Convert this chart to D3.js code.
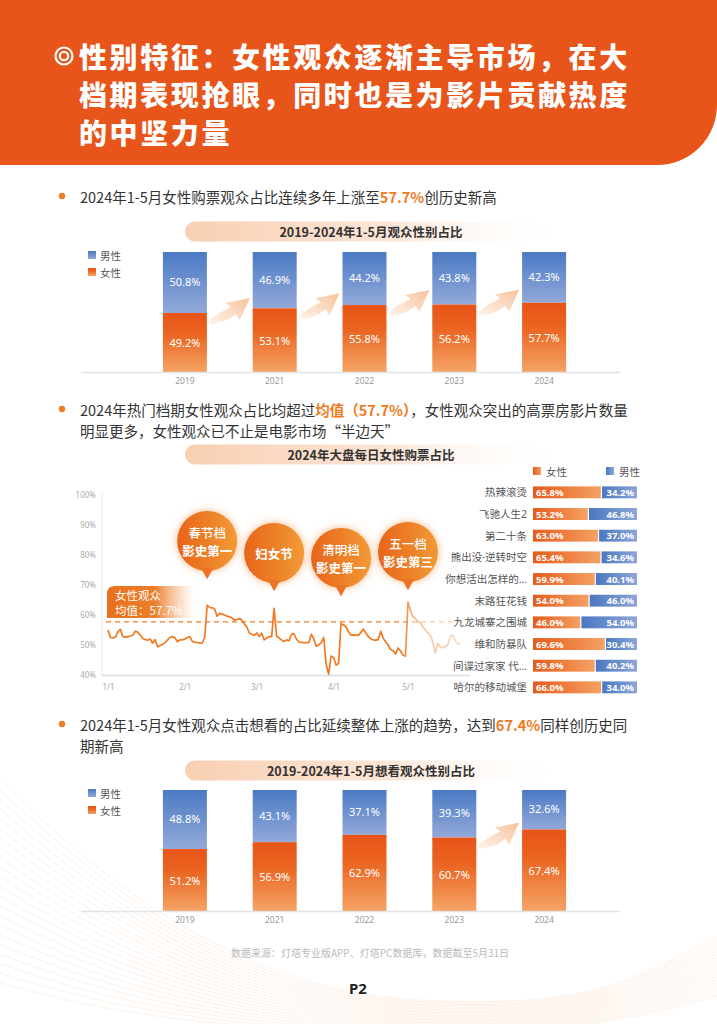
<!DOCTYPE html>
<html>
<head>
<meta charset="utf-8">
<script src="https://cdn.jsdelivr.net/npm/d3@7"></script>
<style>
body { margin: 0; background: #fff; }
svg { display: block; font-family: "Noto Sans CJK SC", "Noto Sans", sans-serif; }
</style>
</head>
<body>
<svg width="717" height="1024"></svg>
<script>
// ---- data ----
const titleLines = ["性别特征：女性观众逐渐主导市场，在大", "档期表现抢眼，同时也是为影片贡献热度", "的中坚力量"];

const years = ["2019", "2021", "2022", "2023", "2024"];
const buyFemale = [49.2, 53.1, 55.8, 56.2, 57.7];
const buyMale = [50.8, 46.9, 44.2, 43.8, 42.3];
const wantFemale = [51.2, 56.9, 62.9, 60.7, 67.4];
const wantMale = [48.8, 43.1, 37.1, 39.3, 32.6];

const movies = ["热辣滚烫", "飞驰人生2", "第二十条", "熊出没·逆转时空", "你想活出怎样的…", "末路狂花钱", "九龙城寨之围城", "维和防暴队", "间谍过家家 代…", "哈尔的移动城堡"];
const movieFemale = [65.8, 53.2, 63.0, 65.4, 59.9, 54.0, 46.0, 69.6, 59.8, 66.0];
const movieMale = [34.2, 46.8, 37.0, 34.6, 40.1, 46.0, 54.0, 30.4, 40.2, 34.0];

// daily female share from 1/1/2024 (index = day of year)
const dailyFemale = [
  55.0, 52.5, 52.4, 52.6, 54.4, 55.2, 52.8, 52.6, 52.8, 53.0,
  53.3, 54.6, 54.3, 53.3, 52.2, 51.8, 51.6, 52.0, 50.6, 51.8,
  49.4, 49.8, 50.2, 50.8, 51.7, 52.5, 52.8, 52.4, 51.1, 51.7,
  51.7, 52.0, 52.5, 52.8, 51.2, 50.9, 50.9, 50.6, 50.7, 52.5,
  63.3, 62.5, 62.4, 62.0, 59.6, 60.6, 60.3, 60.0, 59.6, 59.4,
  59.0, 58.3, 58.5, 58.8, 58.3, 57.0, 56.0, 54.0, 53.6, 53.2,
  54.0, 52.8, 53.9, 51.7, 52.3, 52.8, 52.8, 62.2, 53.0, 52.3,
  51.7, 51.2, 51.7, 51.4, 53.6, 53.7, 52.0, 51.0, 50.9, 50.8,
  50.8, 50.8, 53.6, 52.0, 49.6, 50.0, 50.8, 52.5, 43.5, 40.3,
  46.3, 45.8, 43.3, 43.8, 57.2, 56.7, 56.0, 54.4, 53.3, 53.4,
  53.3, 53.2, 54.2, 55.3, 54.0, 52.8, 52.1, 51.7, 51.6, 51.8,
  54.6, 52.3, 51.0, 50.0, 48.5, 48.1, 47.0, 49.0, 48.0, 46.6,
  46.3, 64.3, 61.5, 59.5, 58.8, 57.8, 57.5, 56.0, 55.0, 54.0,
  53.3, 51.0, 47.3, 50.5, 49.5, 49.0, 49.5, 50.0, 52.8, 53.3,
  51.5, 50.5, 50.3
];
const femaleMean = 57.7;
const yTicks = [40, 50, 60, 70, 80, 90, 100];
const monthDays = [0, 31, 60, 91, 121];
const monthLabels = ["1/1", "2/1", "3/1", "4/1", "5/1"];

const eventDays = [40, 67, 94, 121];
const eventLabels = [["春节档", "影史第一"], ["妇女节"], ["清明档", "影史第一"], ["五一档", "影史第三"]];

const ORANGE = "#F07A22";

const svg = d3.select("svg");
const defs = svg.append("defs");

const linGrad = (id, stops, a) => {
    const g = defs.append("linearGradient").attr("id", id)
        .attr("x1", a[0]).attr("y1", a[1]).attr("x2", a[2]).attr("y2", a[3]);
    if (a[4]) g.attr("gradientUnits", a[4]);
    stops.forEach(s => g.append("stop").attr("offset", s[0]).attr("stop-color", s[1]).attr("stop-opacity", s[2] ?? 1));
};
linGrad("gBlueV", [[0, "#4A7AC3"], [1, "#93A9D9"]], [0, 0, 0, 1]);
linGrad("gOrangeV", [[0, "#E85418"], [0.35, "#EA6420"], [1, "#F4A466"]], [0, 0, 0, 1]);
linGrad("gBlueH", [[0, "#4A78C2"], [1, "#8DA5D6"]], [0, 0, 1, 0]);
linGrad("gOrangeH", [[0, "#E85A1A"], [1, "#F3A264"]], [0, 0, 1, 0]);
linGrad("gBand", [[0, "#F9CFB2"], [0.55, "#FCE6D7"], [1, "#FFFFFF", 0]], [0, 0, 1, 0]);
linGrad("gArrow", [[0, "#FEF4EC"], [1, "#F8C29C"]], [0, 1, 1, 0]);
linGrad("gBubble", [[0, "#E8641A"], [1, "#F19A35"]], [0, 0, 1, 0]);
linGrad("gMeanBox", [[0, "#E8701C"], [0.55, "#EC7E2A"], [1, "#F6B27E", 0]], [0, 0, 1, 0]);
linGrad("gLine", [[0, ORANGE], [0.83, ORANGE], [0.88, ORANGE, 0.45], [1, ORANGE, 0.3]], [108, 0, 460, 0, "userSpaceOnUse"]);

const glow = defs.append("filter").attr("id", "glow").attr("x", "-50%").attr("y", "-50%").attr("width", "200%").attr("height", "200%");
glow.append("feDropShadow").attr("dx", 0).attr("dy", 0).attr("stdDeviation", 4.5)
    .attr("flood-color", "#F4A060").attr("flood-opacity", 0.75);

// ---- background waves ----
const waves = svg.append("g").attr("fill", "none").attr("stroke", "#F7CBAA").attr("stroke-width", 0.6).attr("opacity", 0.45);
d3.range(22).forEach(i => {
    waves.append("path").attr("d",
        `M-10,${770 + i * 10} C110,${890 + i * 6} 240,${990 + i * 2} 420,${1000 + i * 1.5} S640,${975 + i * 2} 730,${930 + i * 3}`);
});

// ---- header ----
svg.append("path").attr("d", "M0,0 H717 V105 A60,60 0 0 1 657,165 H0 Z").attr("fill", "#E8551A");
const ring = svg.append("g").attr("transform", "translate(64,56)").attr("fill", "none").attr("stroke", "#fff").attr("stroke-width", 2.2);
ring.append("circle").attr("r", 8.5);
ring.append("circle").attr("r", 4.2);
svg.append("g").selectAll("text").data(titleLines).join("text")
    .attr("x", 79).attr("y", (d, i) => 56 + i * 38)
    .attr("dominant-baseline", "central")
    .attr("fill", "#fff").attr("font-size", 28).attr("font-weight", 900).attr("letter-spacing", 2.6)
    .text(d => d);

// ---- bullet paragraphs ----
const rich = (y, lines) => {
    svg.append("circle").attr("cx", 62).attr("cy", y).attr("r", 3.2).attr("fill", ORANGE);
    lines.forEach((segs, li) => {
        const t = svg.append("text").attr("x", 80).attr("y", y + li * 21).attr("dominant-baseline", "central")
            .attr("font-size", 14.5).attr("fill", "#333");
        segs.forEach(s => {
            const ts = t.append("tspan").text(s[0]);
            if (s[1]) ts.attr("fill", ORANGE).attr("font-weight", 700);
        });
    });
};
rich(196, [[["2024年1-5月女性购票观众占比连续多年上涨至"], ["57.7%", true], ["创历史新高"]]]);
rich(409, [[["2024年热门档期女性观众占比均超过"], ["均值（57.7%）", true], ["，女性观众突出的高票房影片数量"]],
           [["明显更多，女性观众已不止是电影市场“半边天”"]]]);
rich(724, [[["2024年1-5月女性观众点击想看的占比延续整体上涨的趋势，达到"], ["67.4%", true], ["同样创历史同"]],
           [["期新高"]]]);

// ---- section title bands ----
const band = (y, label) => {
    svg.append("rect").attr("x", 185).attr("y", y - 9.5).attr("width", 375).attr("height", 20).attr("rx", 10)
        .attr("fill", "url(#gBand)");
    svg.append("text").attr("x", 371).attr("y", y + 0.5).attr("text-anchor", "middle").attr("dominant-baseline", "central")
        .attr("font-size", 12.5).attr("font-weight", 700).attr("fill", "#333").text(label);
};
band(231, "2019-2024年1-5月观众性别占比");
band(454, "2024年大盘每日女性购票占比");
band(770, "2019-2024年1-5月想看观众性别占比");

// ---- stacked year charts ----
const arrowPath = (x0, y0, x1, y1) => {
    const w = x1 - x0, h = y0 - y1;
    const P = (fx, fy) => `${x0 + fx * w},${y0 - fy * h}`;
    return `M${x0},${y0 + 2} Q${P(0.39, -0.08)} ${P(0.66, 0.33)} L${P(0.76, 0.08)} L${P(1, 1)} L${P(0.41, 0.79)} L${P(0.54, 0.625)} Q${P(0.27, 0.42)} ${x0},${y0 - 2} Z`;
};

const legend = (y) => {
    const lg = svg.append("g").attr("font-size", 10.5).attr("fill", "#555");
    [["男性", "url(#gBlueV)", 0], ["女性", "url(#gOrangeV)", 17]].forEach(([t, f, dy]) => {
        lg.append("rect").attr("x", 88).attr("y", y + dy - 4).attr("width", 8).attr("height", 8).attr("fill", f);
        lg.append("text").attr("x", 100).attr("y", y + dy).attr("dominant-baseline", "central").text(t);
    });
};

const drawStack = (top, bottom, female, male, arrowPairs) => {
    const x = d3.scaleBand().domain(years).range([140, 589]).paddingInner(0.51).paddingOuter(0.255);
    const y = d3.scaleLinear().domain([0, 100]).range([bottom, top]);
    const g = svg.append("g");
    const rows = years.map((yr, i) => ({ yr, f: female[i], m: male[i] }));

    // arrows behind bars
    arrowPairs.forEach(i => {
        const x0 = x(years[i]) + x.bandwidth() + 2, x1 = x(years[i + 1]) - 3;
        const yb = y(female[i]);
        g.append("path").attr("d", arrowPath(x0, yb + 9, x1, yb - 15)).attr("fill", "url(#gArrow)");
    });

    g.selectAll(".m").data(rows).join("rect").attr("class", "m")
        .attr("x", d => x(d.yr)).attr("width", x.bandwidth())
        .attr("y", y(100)).attr("height", d => y(d.f) - y(100)).attr("fill", "url(#gBlueV)");
    g.selectAll(".f").data(rows).join("rect").attr("class", "f")
        .attr("x", d => x(d.yr)).attr("width", x.bandwidth())
        .attr("y", d => y(d.f)).attr("height", d => y(0) - y(d.f)).attr("fill", "url(#gOrangeV)");

    const lab = g.append("g").attr("fill", "#fff").attr("font-size", 11).attr("font-family", "Noto Sans, sans-serif")
        .attr("text-anchor", "middle").attr("dominant-baseline", "central");
    lab.selectAll(".ml").data(rows).join("text").attr("class", "ml")
        .attr("x", d => x(d.yr) + x.bandwidth() / 2).attr("y", d => (y(100) + y(d.f)) / 2 - 1)
        .text(d => d.m.toFixed(1) + "%");
    lab.selectAll(".fl").data(rows).join("text").attr("class", "fl")
        .attr("x", d => x(d.yr) + x.bandwidth() / 2).attr("y", d => (y(0) + y(d.f)) / 2)
        .text(d => d.f.toFixed(1) + "%");

    g.append("line").attr("x1", 81).attr("x2", 620).attr("y1", bottom + 0.5).attr("y2", bottom + 0.5)
        .attr("stroke", "#e3e3e3").attr("stroke-width", 1.5);
    const ax = g.append("g").attr("transform", `translate(0,${bottom})`)
        .call(d3.axisBottom(x).tickSize(0).tickPadding(6));
    ax.select(".domain").remove();
    ax.selectAll("text").attr("fill", "#999").attr("font-size", 8.5).attr("font-family", "Noto Sans, sans-serif");
};

legend(255);
drawStack(252, 372, buyFemale, buyMale, [0, 1, 2, 3]);
legend(793);
drawStack(790, 911, wantFemale, wantMale, [3]);

// ---- daily line chart ----
const xL = d3.scaleLinear().domain([0, 121]).range([108, 408]);
const yL = d3.scaleLinear().domain([40, 100]).range([675, 495]);
const lc = svg.append("g");

lc.append("line").attr("x1", 102).attr("x2", 102).attr("y1", 493).attr("y2", 675).attr("stroke", "#e6e6e6");
lc.append("line").attr("x1", 102).attr("x2", 470).attr("y1", 675.5).attr("y2", 675.5).attr("stroke", "#dedede").attr("stroke-width", 1.3);

const ya = lc.append("g").attr("transform", "translate(102,0)")
    .call(d3.axisLeft(yL).tickValues(yTicks).tickFormat(d => d + "%").tickSize(0).tickPadding(6));
ya.select(".domain").remove();
ya.selectAll("text").attr("fill", "#aaa").attr("font-size", 8).attr("font-family", "Noto Sans, sans-serif");

const xa = lc.append("g").attr("transform", "translate(0,675)")
    .call(d3.axisBottom(xL).tickValues(monthDays).tickFormat((d, i) => monthLabels[i]).tickSize(0).tickPadding(9));
xa.select(".domain").remove();
xa.selectAll("text").attr("fill", "#aaa").attr("font-size", 8).attr("font-family", "Noto Sans, sans-serif");

lc.append("line").attr("x1", 106).attr("x2", 462).attr("y1", yL(femaleMean)).attr("y2", yL(femaleMean))
    .attr("stroke", "url(#gLine)").attr("stroke-width", 1.4).attr("stroke-dasharray", "5,4");

lc.append("path").datum(dailyFemale)
    .attr("d", d3.line().x((d, i) => xL(i)).y(d => yL(d)))
    .attr("fill", "none").attr("stroke", "url(#gLine)").attr("stroke-width", 1.7).attr("stroke-linejoin", "round");

// mean label box
lc.append("path").attr("d", "M107,594 Q107,586 115,586 H194 V618 H107 Z").attr("fill", "url(#gMeanBox)");
lc.append("text").attr("x", 115).attr("y", 595).attr("dominant-baseline", "central")
    .attr("fill", "#fff").attr("font-size", 11.5).text("女性观众");
lc.append("text").attr("x", 115).attr("y", 610).attr("dominant-baseline", "central")
    .attr("fill", "#fff").attr("font-size", 11.5).text("均值：" + femaleMean + "%");

// event bubbles
const bubbleCy = [541, 553, 558, 552];
eventDays.forEach((day, i) => {
    const cx = xL(day), cy = bubbleCy[i], r = 30;
    const b = lc.append("g");
    const tail = `M${cx - 6},${cy + r - 3} L${cx},${cy + r + 8} L${cx + 6},${cy + r - 3} Z`;
    b.append("path").attr("d", tail).attr("fill", "#EB7424");
    b.append("circle").attr("cx", cx).attr("cy", cy).attr("r", r).attr("fill", "url(#gBubble)").attr("filter", "url(#glow)");
    b.append("path").attr("d", tail).attr("fill", "#EB7424");
    const lines = eventLabels[i];
    lines.forEach((t, j) => {
        b.append("text").attr("x", cx).attr("y", cy + (lines.length === 1 ? 0 : (j === 0 ? -9 : 9)))
            .attr("text-anchor", "middle").attr("dominant-baseline", "central")
            .attr("fill", "#fff").attr("font-size", 12.5).attr("font-weight", j === 0 && lines.length > 1 ? 500 : 700)
            .text(t);
    });
});

// ---- movie bars ----
const xM = d3.scaleLinear().domain([0, 100]).range([533, 637]);
const yM = d3.scaleBand().domain(movies).range([481.5, 698.2]).paddingInner(0.45).paddingOuter(0.225);
const mg = svg.append("g");

const mrows = movies.map((m, i) => ({ m, f: movieFemale[i], v: movieMale[i] }));
mg.selectAll(".fb").data(mrows).join("rect").attr("class", "fb")
    .attr("x", xM(0)).attr("y", d => yM(d.m)).attr("height", yM.bandwidth())
    .attr("width", d => xM(d.f) - xM(0) - 0.6).attr("fill", "url(#gOrangeH)");
mg.selectAll(".mb").data(mrows).join("rect").attr("class", "mb")
    .attr("x", d => xM(d.f) + 0.6).attr("y", d => yM(d.m)).attr("height", yM.bandwidth())
    .attr("width", d => xM(100) - xM(d.f) - 0.6).attr("fill", "url(#gBlueH)");

const ml = mg.append("g").attr("font-size", 9.5).attr("font-weight", 700).attr("fill", "#fff")
    .attr("font-family", "Noto Sans, sans-serif").attr("dominant-baseline", "central");
ml.selectAll(".fv").data(mrows).join("text").attr("class", "fv")
    .attr("x", xM(0) + 3).attr("y", d => yM(d.m) + yM.bandwidth() / 2).text(d => d.f.toFixed(1) + "%");
ml.selectAll(".mv").data(mrows).join("text").attr("class", "mv").attr("text-anchor", "end")
    .attr("x", xM(100) - 3).attr("y", d => yM(d.m) + yM.bandwidth() / 2).text(d => d.v.toFixed(1) + "%");

mg.selectAll(".nm").data(mrows).join("text").attr("class", "nm")
    .attr("x", 527).attr("y", d => yM(d.m) + yM.bandwidth() / 2).attr("text-anchor", "end").attr("dominant-baseline", "central")
    .attr("font-family", "'Noto Sans', 'Noto Sans CJK SC', sans-serif")
    .attr("font-size", 10.5).attr("fill", "#555").text(d => d.m);

[["女性", "url(#gOrangeH)", 533], ["男性", "url(#gBlueH)", 606]].forEach(([t, f, x]) => {
    mg.append("rect").attr("x", x).attr("y", 467).attr("width", 8).attr("height", 8).attr("fill", f);
    mg.append("text").attr("x", x + 13).attr("y", 471).attr("dominant-baseline", "central")
        .attr("font-size", 10.5).attr("fill", "#555").text(t);
});

// ---- footer ----
svg.append("text").attr("x", 370).attr("y", 952).attr("text-anchor", "middle").attr("dominant-baseline", "central")
    .attr("font-size", 10).attr("fill", "#bbb").text("数据来源：灯塔专业版APP、灯塔PC数据库，数据截至5月31日");
svg.append("text").attr("x", 358).attr("y", 988).attr("text-anchor", "middle").attr("dominant-baseline", "central")
    .attr("font-size", 15).attr("font-weight", 700).attr("fill", "#222").attr("font-family", "Noto Sans, sans-serif").text("P2");
</script>
</body>
</html>
